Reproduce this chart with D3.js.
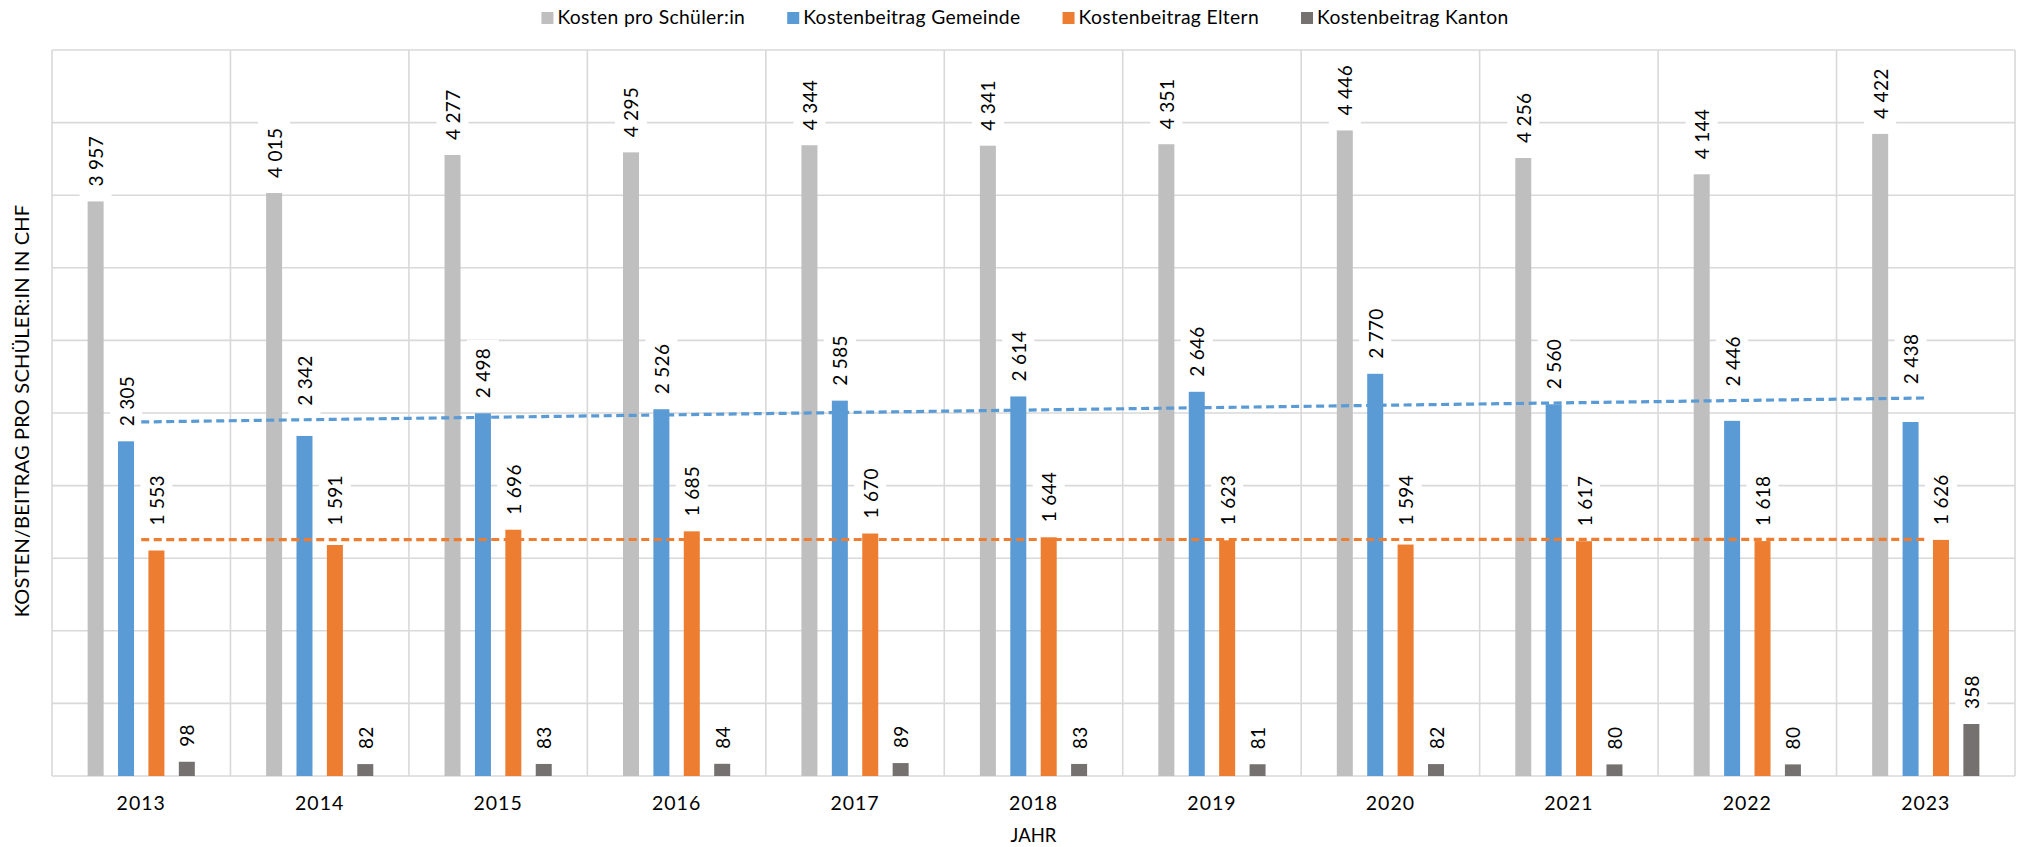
<!DOCTYPE html>
<html><head><meta charset="utf-8">
<script src="https://cdn.jsdelivr.net/npm/d3@7"></script>
<style>
html,body{margin:0;padding:0;background:#fff;}
svg{display:block;font-family:Lato,"Open Sans",sans-serif;}
</style></head>
<body>
<svg id="chart" width="2022" height="847"></svg>
<script>
const years = ["2013","2014","2015","2016","2017","2018","2019","2020","2021","2022","2023"];
const seriesNames = ["Kosten pro Schüler:in","Kostenbeitrag Gemeinde","Kostenbeitrag Eltern","Kostenbeitrag Kanton"];
const kostenProSchueler = [3957,4015,4277,4295,4344,4341,4351,4446,4256,4144,4422];
const beitragGemeinde   = [2305,2342,2498,2526,2585,2614,2646,2770,2560,2446,2438];
const beitragEltern     = [1553,1591,1696,1685,1670,1644,1623,1594,1617,1618,1626];
const beitragKanton     = [98,82,83,84,89,83,81,82,80,80,358];
const yTicks = [0,500,1000,1500,2000,2500,3000,3500,4000,4500,5000];
const colors = ["#BFBFBF","#5B9BD5","#ED7D31","#767171"];
const yTitle = "KOSTEN/BEITRAG PRO SCHÜLER:IN IN CHF";
const xTitle = "JAHR";

const seriesValues = [kostenProSchueler, beitragGemeinde, beitragEltern, beitragKanton];
const trendSeries = [1,2]; // Gemeinde, Eltern

const svg = d3.select("#chart");
const L = 52, R = 2015, T = 50, B = 776;

const x = d3.scaleBand().domain(years).range([L, R]).padding(0);
const step = 30.4, barW = 16;
const pi = (step - barW) / step;
const xSub = d3.scaleBand().domain(seriesNames).range([0, 4 * step]).paddingInner(pi).paddingOuter(pi / 2);
const groupOff = -2 * step;
const y = d3.scaleLinear().domain([0, 5000]).range([B, T]);

const fmt = d3.formatLocale({decimal: ".", thousands: " ", grouping: [3], currency: ["", ""]}).format(",d");

// trend lines (linear regression)
const trends = trendSeries.map(j => {
  const vals = seriesValues[j];
  const n = vals.length;
  const xs = d3.range(n);
  const mx = d3.mean(xs), my = d3.mean(vals);
  const sxy = d3.sum(xs, k => (k - mx) * (vals[k] - my));
  const sxx = d3.sum(xs, k => (k - mx) * (k - mx));
  const slope = sxy / sxx, icpt = my - slope * mx;
  const cx0 = x(years[0]) + x.bandwidth() / 2;
  const cx1 = x(years[n - 1]) + x.bandwidth() / 2;
  const y0 = y(icpt), y1 = y(icpt + slope * (n - 1));
  return {j, cx0, cx1, y0, y1, at: px => y0 + (y1 - y0) * (px - cx0) / (cx1 - cx0)};
});

// grid
const grid = svg.append("g").attr("stroke", "#D9D9D9").attr("stroke-width", 1.6);
grid.selectAll("line.h").data(yTicks).join("line")
  .attr("x1", L).attr("x2", R).attr("y1", d => y(d)).attr("y2", d => y(d));
const vb = years.map(d => x(d)).concat([R]);
grid.selectAll("line.v").data(vb).join("line")
  .attr("x1", d => d).attr("x2", d => d).attr("y1", T).attr("y2", B);

// bars
const rows = [];
years.forEach((yr, i) => seriesNames.forEach((s, j) => rows.push({yr, s, j, v: seriesValues[j][i]})));
const barX = d => x(d.yr) + x.bandwidth() / 2 + groupOff + xSub(d.s);
svg.append("g").selectAll("rect").data(rows).join("rect")
  .attr("x", barX).attr("width", xSub.bandwidth())
  .attr("y", d => y(d.v)).attr("height", d => y(0) - y(d.v))
  .attr("fill", d => colors[d.j]);

// labels with white boxes (moved up when they would sit on a trend line)
const lg = svg.append("g");
rows.forEach(d => {
  const cx = barX(d) + xSub.bandwidth() / 2;
  const top = y(d.v);
  const g = lg.append("g");
  const box = g.append("rect").attr("fill", "#fff");
  const t = g.append("text")
    .attr("text-anchor", "start").attr("dominant-baseline", "central")
    .attr("font-size", 19).attr("fill", "#000").attr("letter-spacing", 0.3)
    .text(fmt(d.v));
  const len = t.node().getComputedTextLength();
  let tb = top - 15;
  trends.forEach(tr => {
    if (cx + 12 < tr.cx0 || cx - 12 > tr.cx1) return;
    const ly = tr.at(Math.min(Math.max(cx, tr.cx0), tr.cx1));
    const boxTop = tb - len - 8, boxBot = tb + 11;
    if (ly + 2 > boxTop && ly - 2 < boxBot) tb = Math.min(tb, ly - 14);
  });
  t.attr("transform", `translate(${cx},${tb}) rotate(-90)`);
  box.attr("x", cx - 16).attr("width", 32)
    .attr("y", tb - len - 8).attr("height", len + 8 + 11);
});

// draw trend lines
trends.forEach(tr => {
  svg.append("line")
    .attr("x1", tr.cx0).attr("y1", tr.y0)
    .attr("x2", tr.cx1).attr("y2", tr.y1)
    .attr("stroke", colors[tr.j]).attr("stroke-width", 3.2)
    .attr("stroke-dasharray", "8,4.5");
});

// x tick labels
svg.append("g").selectAll("text").data(years).join("text")
  .attr("x", d => x(d) + x.bandwidth() / 2).attr("y", 810)
  .attr("text-anchor", "middle").attr("font-size", 19.5).attr("letter-spacing", 1)
  .attr("fill", "#000").text(d => d);

// axis titles
svg.append("text").attr("x", (L + R) / 2).attr("y", 842)
  .attr("text-anchor", "middle").attr("font-size", 18.5).attr("fill", "#000").text(xTitle);
svg.append("text")
  .attr("transform", `translate(21,411) rotate(-90)`)
  .attr("text-anchor", "middle").attr("dominant-baseline", "central")
  .attr("font-size", 20).attr("letter-spacing", 0.2).attr("fill", "#000").text(yTitle);

// legend
const leg = svg.append("g");
const items = seriesNames.map((s, j) => {
  const g = leg.append("g");
  g.append("rect").attr("width", 12).attr("height", 12).attr("y", 12).attr("fill", colors[j]);
  const t = g.append("text").attr("x", 16).attr("y", 24).attr("font-size", 19.3)
    .attr("fill", "#000").attr("letter-spacing", 0.35).text(s);
  return {g, w: 16 + t.node().getComputedTextLength()};
});
const gap = 42;
const total = d3.sum(items, d => d.w) + gap * (items.length - 1);
let cur = 1025 - total / 2;
items.forEach(it => { it.g.attr("transform", `translate(${cur},0)`); cur += it.w + gap; });
</script>
</body></html>
